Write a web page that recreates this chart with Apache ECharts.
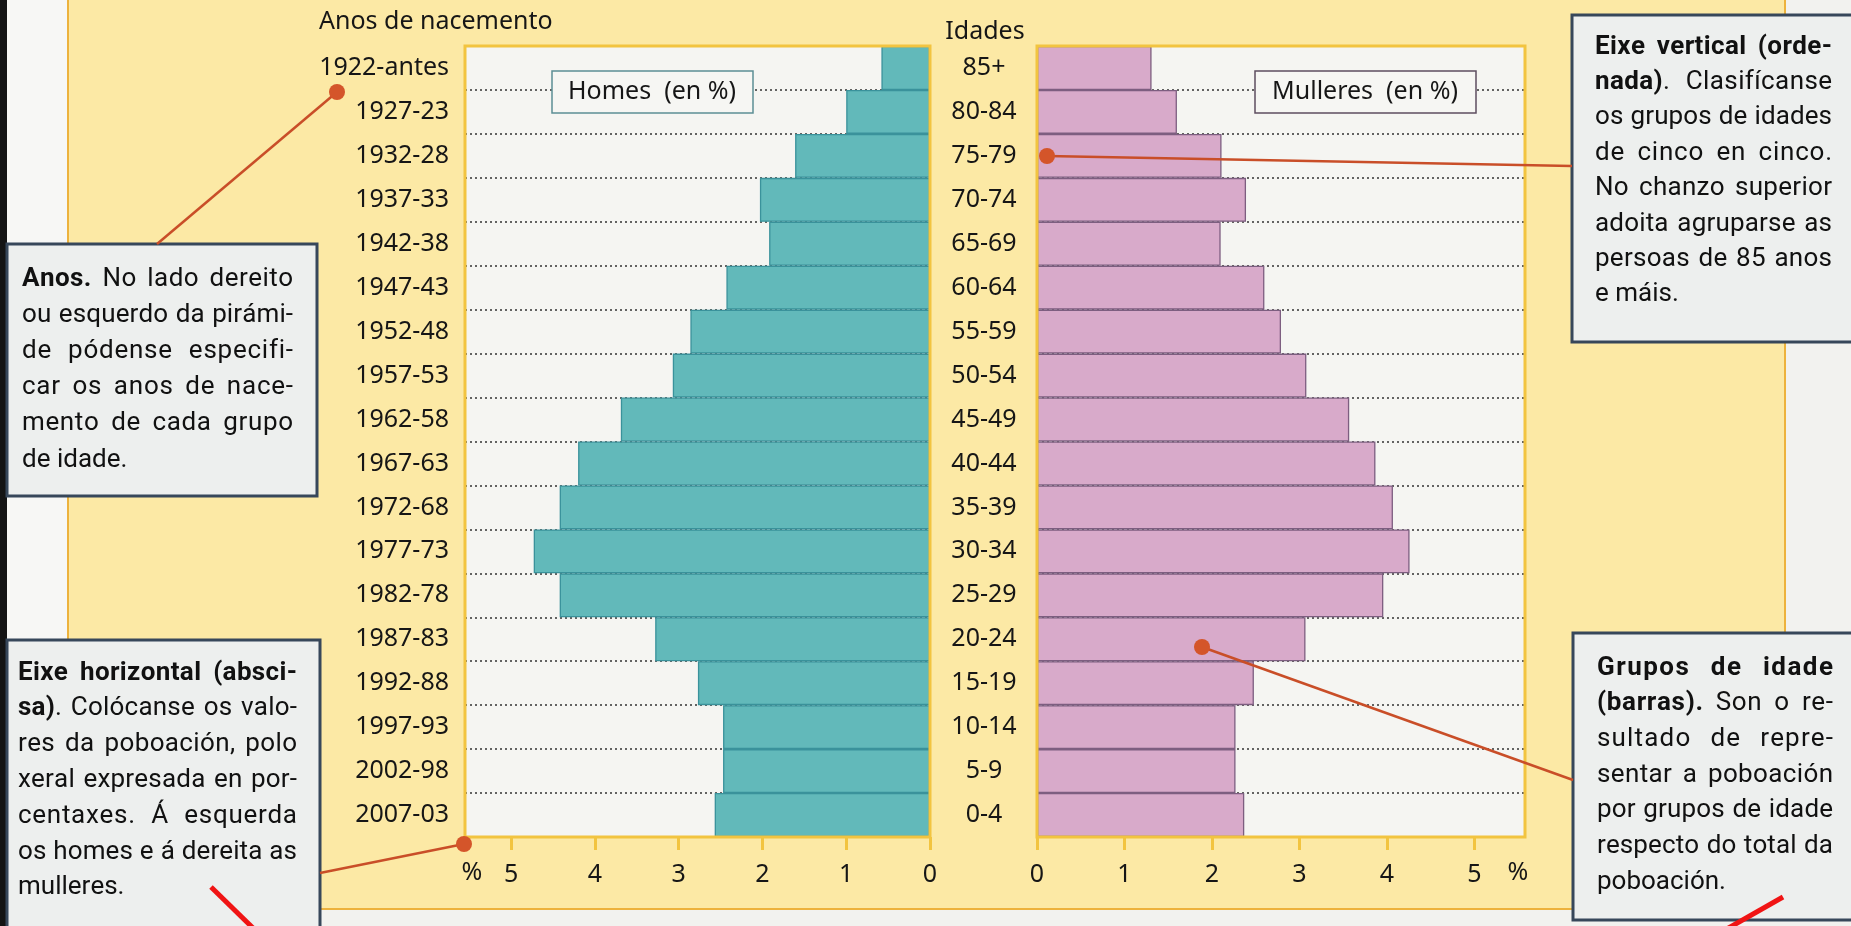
<!DOCTYPE html>
<html><head><meta charset="utf-8">
<script src="https://cdn.jsdelivr.net/npm/echarts@6/dist/echarts.min.js"></script>
<style>html,body{margin:0;padding:0;background:#F2F2EF;overflow:hidden}#chart{width:1851px;height:926px}</style>
</head><body><div id="chart"></div>
<script>
// ---- data (bottom to top) ----
const ageGroups = ['0-4','5-9','10-14','15-19','20-24','25-29','30-34','35-39','40-44','45-49','50-54','55-59','60-64','65-69','70-74','75-79','80-84','85+'];
const birthYears = ['2007-03','2002-98','1997-93','1992-88','1987-83','1982-78','1977-73','1972-68','1967-63','1962-58','1957-53','1952-48','1947-43','1942-38','1937-33','1932-28','1927-23','1922-antes'];
const menPct = [2.57, 2.47, 2.47, 2.77, 3.28, 4.42, 4.73, 4.42, 4.20, 3.69, 3.07, 2.86, 2.43, 1.92, 2.03, 1.61, 1.00, 0.58];
const womenPct = [2.37, 2.27, 2.27, 2.48, 3.07, 3.96, 4.26, 4.07, 3.87, 3.57, 3.08, 2.79, 2.60, 2.10, 2.39, 2.11, 1.60, 1.31];
const xTickValues = [0, 1, 2, 3, 4, 5];

const noteAnos = ['**Anos.** No lado dereito','ou esquerdo da pirámi-','de pódense especifi-','car os anos de nace-','mento de cada grupo','de idade.'];
const noteHoriz = ['**Eixe horizontal (absci-**','**sa)**. Colócanse os valo-','res da poboación, polo','xeral expresada en por-','centaxes. Á esquerda','os homes e á dereita as','mulleres.'];
const noteVert = ['**Eixe vertical (orde-**','**nada)**. Clasifícanse','os grupos de idades','de cinco en cinco.','No chanzo superior','adoita agruparse as','persoas de 85 anos','e máis.'];
const noteBars = ['**Grupos de idade**','**(barras).** Son o re-','sultado de repre-','sentar a poboación','por grupos de idade','respecto do total da','poboación.'];

// ---- layout ----
const LF = "'Noto Sans','Open Sans',sans-serif";
const NF = "Roboto,'Liberation Sans Narrow',sans-serif";
const G0 = {left: 465, top: 46, width: 465, height: 791};
const G1 = {left: 1037, top: 46, width: 488, height: 791};
const FRAME = '#F2C440';
const TEXT = '#161616';

const chart = echarts.init(document.getElementById('chart'), null, {renderer: 'canvas'});

const mctx = document.createElement('canvas').getContext('2d');
function fontStr(bold, size) { return (bold ? 'bold ' : '') + size + 'px ' + NF; }
function mw(t, bold, size) { mctx.font = fontStr(bold, size); return mctx.measureText(t).width; }

// justified paragraph, character by character
function paragraph(lines, x0, x1, y0, lh, size) {
  const els = [];
  const W = x1 - x0;
  lines.forEach((line, li) => {
    const parts = line.split('**');
    const chars = [];
    parts.forEach((p, pi) => { for (const c of p) chars.push({c, b: pi % 2 === 1}); });
    chars.forEach(o => { o.w = mw(o.c, o.b, size); });
    const natural = chars.reduce((s, o) => s + o.w, 0);
    const last = li === lines.length - 1;
    const nSpaces = chars.filter(o => o.c === ' ').length;
    let ls = 0, sp = 0;
    if (!last) {
      const extra = W - natural;
      const nGaps = chars.length - 1;
      if (extra <= 0 || nSpaces === 0) { ls = extra / nGaps; }
      else {
        ls = Math.min(extra * 0.45 / nGaps, 1.6);
        sp = (extra - ls * nGaps) / nSpaces;
      }
    }
    let x = x0;
    const y = y0 + li * lh;
    chars.forEach(o => {
      if (o.c !== ' ') {
        els.push({type: 'text', x: x, y: y, z: 42, silent: true,
          style: {text: o.c, font: fontStr(o.b, size), fill: '#111', align: 'left', verticalAlign: 'middle', textAlign: 'left', textVerticalAlign: 'middle'}});
      }
      x += o.w + ls + (o.c === ' ' ? sp : 0);
    });
  });
  return els;
}

function box(x, y, w, h) {
  return {type: 'rect', z: 40, silent: true, shape: {x, y, width: w, height: h},
    style: {fill: '#EDEFEE', stroke: '#37475A', lineWidth: 3}};
}
function leader(x1, y1, x2, y2) {
  return [
    {type: 'line', z: 45, silent: true, shape: {x1, y1, x2, y2}, style: {stroke: '#C94E28', lineWidth: 2.5}},
    {type: 'circle', z: 46, silent: true, shape: {cx: x1, cy: y1, r: 8}, style: {fill: '#D4552A'}}
  ];
}
function txt(x, y, t, align, size, extra) {
  return Object.assign({type: 'text', x, y, z: 20, silent: true,
    style: {text: t, font: size + 'px ' + LF, fill: TEXT, align, verticalAlign: 'middle', textAlign: align, textVerticalAlign: 'middle'}}, extra || {});
}

const graphics = [
  // page pieces
  {type: 'rect', z: -20, silent: true, shape: {x: 0, y: 0, width: 7, height: 926}, style: {fill: '#141414'}},
  {type: 'rect', z: -20, silent: true, shape: {x: 7, y: 0, width: 61, height: 926}, style: {fill: '#F7F7F5'}},
  {type: 'rect', z: -19, silent: true, shape: {x: 68, y: -10, width: 1717, height: 919}, style: {fill: '#FCE9A5', stroke: '#EDB23C', lineWidth: 2}},
  // plot frames
  {type: 'rect', z: 30, silent: true, shape: {x: G0.left, y: G0.top, width: G0.width, height: G0.height}, style: {fill: null, stroke: FRAME, lineWidth: 3}},
  {type: 'rect', z: 30, silent: true, shape: {x: G1.left, y: G1.top, width: G1.width, height: G1.height}, style: {fill: null, stroke: FRAME, lineWidth: 3}},
  // headers
  txt(319, 22, 'Anos de nacemento', 'left', 25),
  txt(985, 32, 'Idades', 'center', 25),
  txt(472, 873, '%', 'center', 25),
  txt(1518, 873, '%', 'center', 25),
  // series name boxes
  {type: 'rect', z: 35, silent: true, shape: {x: 552, y: 71, width: 201, height: 42}, style: {fill: '#F6F6F3', stroke: '#5C8E95', lineWidth: 1.5}},
  txt(652, 92, 'Homes  (en %)', 'center', 25, {z: 36}),
  {type: 'rect', z: 35, silent: true, shape: {x: 1255, y: 71, width: 221, height: 42}, style: {fill: '#F6F6F3', stroke: '#5E4E60', lineWidth: 1.5}},
  txt(1365, 92, 'Mulleres  (en %)', 'center', 25, {z: 36}),
  // annotation boxes
  box(7, 244, 310, 252),
  box(7, 640, 313, 300),
  box(1572, 15, 290, 327),
  box(1573, 633, 290, 287),
  ...paragraph(noteAnos, 22, 293, 279, 36.2, 26),
  ...paragraph(noteHoriz, 18, 297, 673, 35.8, 26),
  ...paragraph(noteVert, 1595, 1832, 47, 35.4, 26),
  ...paragraph(noteBars, 1597, 1833, 668, 35.7, 26),
  // leader lines
  ...leader(337, 92, 157, 244),
  ...leader(464, 844, 320, 873),
  ...leader(1047, 156, 1572, 166),
  ...leader(1202, 647, 1573, 780),
  // red marks
  {type: 'line', z: 50, silent: true, shape: {x1: 211, y1: 887, x2: 255, y2: 930}, style: {stroke: '#F01414', lineWidth: 5}},
  {type: 'line', z: 50, silent: true, shape: {x1: 1783, y1: 897, x2: 1725, y2: 930}, style: {stroke: '#F01414', lineWidth: 5}}
];

const xAxisCommon = {
  type: 'value', min: 0, position: 'bottom',
  axisLine: {show: false},
  axisTick: {show: true, customValues: xTickValues, length: 13, lineStyle: {color: FRAME, width: 3}},
  axisLabel: {customValues: xTickValues, margin: 25, fontSize: 25, fontFamily: LF, color: TEXT,
    formatter: v => (Number.isInteger(v) ? String(v) : '')},
  splitLine: {show: false}
};

const splitDotted = {show: true, lineStyle: {color: '#333', width: 1.6, type: [2, 3]}};

const option = {
  backgroundColor: '#F2F2EF',
  animation: false,
  grid: [
    Object.assign({show: true, backgroundColor: '#F5F5F2', borderWidth: 0}, G0),
    Object.assign({show: true, backgroundColor: '#F5F5F2', borderWidth: 0}, G1)
  ],
  xAxis: [
    Object.assign({}, xAxisCommon, {gridIndex: 0, inverse: true, max: 5.55}),
    Object.assign({}, xAxisCommon, {gridIndex: 1, max: 5.58})
  ],
  yAxis: [
    {type: 'category', gridIndex: 0, position: 'left', data: birthYears,
      axisLine: {show: false}, axisTick: {show: false},
      axisLabel: {margin: 16, fontSize: 25, fontFamily: LF, color: TEXT},
      splitLine: splitDotted},
    {type: 'category', gridIndex: 0, position: 'right', data: ageGroups,
      axisLine: {show: false}, axisTick: {show: false},
      axisLabel: {margin: 54, align: 'center', fontSize: 25, fontFamily: LF, color: TEXT},
      splitLine: {show: false}},
    {type: 'category', gridIndex: 1, position: 'left', data: ageGroups,
      axisLine: {show: false}, axisTick: {show: false}, axisLabel: {show: false},
      splitLine: splitDotted}
  ],
  series: [
    {name: 'Homes', type: 'bar', xAxisIndex: 0, yAxisIndex: 0, data: menPct, barCategoryGap: '0%',
      itemStyle: {color: '#62B9BA', borderColor: '#3A929B', borderWidth: 1.3}},
    {name: 'Mulleres', type: 'bar', xAxisIndex: 1, yAxisIndex: 2, data: womenPct, barCategoryGap: '0%',
      itemStyle: {color: '#D8AACA', borderColor: '#7D5E80', borderWidth: 1.3}}
  ],
  graphic: {elements: graphics}
};
chart.setOption(option);
</script></body></html>
